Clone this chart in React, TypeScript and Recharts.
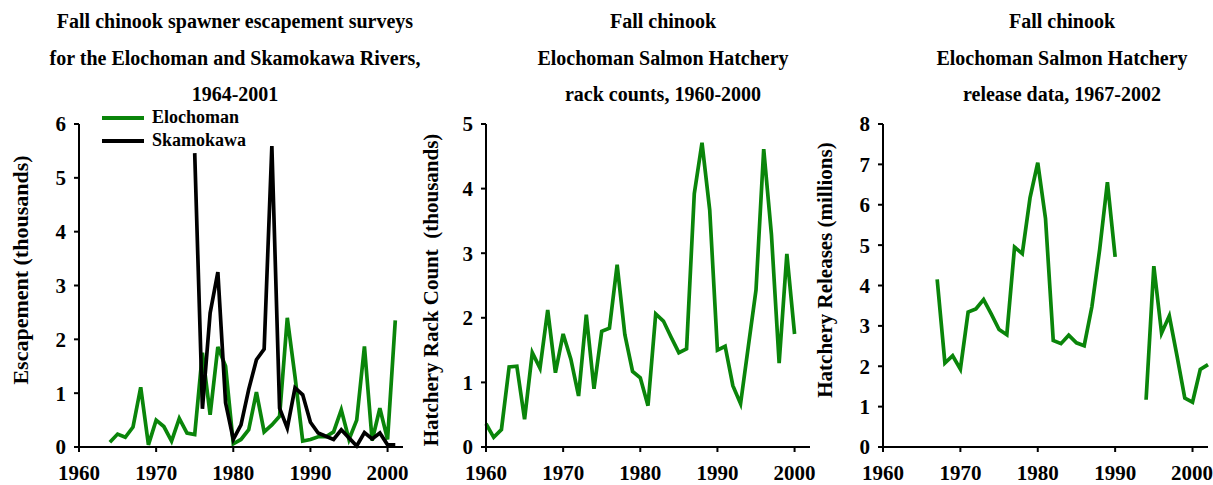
import { LineChart, Line, XAxis, YAxis } from 'recharts';

const FONT = '"Liberation Serif", "Times New Roman", serif';
const GREEN = '#0a850a';

// escapement surveys, thousands
const escYears = [
  1964, 1965, 1966, 1967, 1968, 1969, 1970, 1971, 1972, 1973, 1974, 1975, 1976,
  1977, 1978, 1979, 1980, 1981, 1982, 1983, 1984, 1985, 1986, 1987, 1988, 1989,
  1990, 1991, 1992, 1993, 1994, 1995, 1996, 1997, 1998, 1999, 2000, 2001,
];
const elochoman = [
  0.09, 0.24, 0.18, 0.37, 1.11, 0.04, 0.5, 0.38, 0.11, 0.53, 0.26, 0.23, 1.75,
  0.6, 1.86, 1.5, 0.06, 0.14, 0.32, 1.02, 0.28, 0.41, 0.57, 2.4, 1.31, 0.11,
  0.14, 0.19, 0.19, 0.28, 0.69, 0.14, 0.5, 1.87, 0.12, 0.72, 0.14, 2.35,
];
const skamokawa = [
  null, null, null, null, null, null, null, null, null, null, null, 5.46, 0.71,
  2.49, 3.25, 0.82, 0.14, 0.41, 1.07, 1.62, 1.82, 5.59, 0.72, 0.35, 1.1, 0.97,
  0.46, 0.26, 0.2, 0.14, 0.32, 0.17, 0.02, 0.27, 0.15, 0.26, 0.04, 0.04,
];

// hatchery rack counts, thousands
const rackYears = [
  1960, 1961, 1962, 1963, 1964, 1965, 1966, 1967, 1968, 1969, 1970, 1971, 1972,
  1973, 1974, 1975, 1976, 1977, 1978, 1979, 1980, 1981, 1982, 1983, 1984, 1985,
  1986, 1987, 1988, 1989, 1990, 1991, 1992, 1993, 1994, 1995, 1996, 1997, 1998,
  1999, 2000,
];
const rackCounts = [
  0.36, 0.15, 0.27, 1.24, 1.25, 0.43, 1.46, 1.22, 2.12, 1.15, 1.75, 1.36, 0.79,
  2.05, 0.9, 1.79, 1.84, 2.82, 1.74, 1.17, 1.07, 0.64, 2.06, 1.95, 1.7, 1.46,
  1.52, 3.92, 4.71, 3.67, 1.5, 1.56, 0.95, 0.67, 1.55, 2.43, 4.61, 3.29, 1.3,
  2.99, 1.75,
];

// hatchery releases, millions (no data 1991-1993)
const releaseYears = [
  1967, 1968, 1969, 1970, 1971, 1972, 1973, 1974, 1975, 1976, 1977, 1978, 1979,
  1980, 1981, 1982, 1983, 1984, 1985, 1986, 1987, 1988, 1989, 1990, 1991, 1992,
  1993, 1994, 1995, 1996, 1997, 1998, 1999, 2000, 2001, 2002,
];
const releases = [
  4.15, 2.08, 2.26, 1.93, 3.34, 3.42, 3.65, 3.29, 2.91, 2.78, 4.95, 4.79, 6.17,
  7.04, 5.66, 2.64, 2.56, 2.77, 2.58, 2.51, 3.48, 4.89, 6.56, 4.71, null, null,
  null, 1.17, 4.48, 2.82, 3.25, 2.25, 1.21, 1.11, 1.92, 2.04,
];

const xTicks = [1960, 1970, 1980, 1990, 2000];

const escSeries = [
  { name: 'Elochoman', color: GREEN },
  { name: 'Skamokawa', color: '#000' },
];

const escData = escYears.map((year, i) => ({
  year,
  Elochoman: elochoman[i],
  Skamokawa: skamokawa[i],
}));
const rackData = rackYears.map((year, i) => ({ year, rack: rackCounts[i] }));
const releaseData = releaseYears.map((year, i) => ({ year, releases: releases[i] }));

const tickStyle = { fill: '#000', fontSize: 21, fontWeight: 'bold', fontFamily: FONT };
const axisLine = { stroke: '#000', strokeWidth: 2 };

function Title({ lines, cx }: { lines: string[]; cx: number }) {
  return (
    <>
      {lines.map((t, i) => (
        <div
          key={i}
          style={{
            position: 'absolute',
            left: cx - 250,
            width: 500,
            top: 9 + i * 36.5,
            textAlign: 'center',
            fontFamily: FONT,
            fontWeight: 'bold',
            fontSize: 20,
            lineHeight: '24px',
          }}
        >
          {t}
        </div>
      ))}
    </>
  );
}

function YLabel({ text, cx, cy, size }: { text: string; cx: number; cy: number; size: number }) {
  return (
    <div
      style={{
        position: 'absolute',
        left: cx - 200,
        top: cy - 14,
        width: 400,
        height: 28,
        lineHeight: '28px',
        textAlign: 'center',
        transform: 'rotate(-90deg)',
        fontFamily: FONT,
        fontWeight: 'bold',
        fontSize: size,
        whiteSpace: 'pre',
      }}
    >
      {text}
    </div>
  );
}

function EscLegend() {
  return (
    <div
      style={{
        position: 'absolute',
        left: 100,
        top: 106,
        fontFamily: FONT,
        fontWeight: 'bold',
        fontSize: 18,
      }}
    >
      {escSeries.map((s) => (
        <div key={s.name} style={{ display: 'flex', alignItems: 'center', height: 23 }}>
          <svg width={52} height={10}>
            <line x1={2} y1={5} x2={44} y2={5} stroke={s.color} strokeWidth={4} />
          </svg>
          <span>{s.name}</span>
        </div>
      ))}
    </div>
  );
}

export default function App() {
  const xAxisProps = {
    dataKey: 'year',
    type: 'number' as const,
    domain: [1960, 2002],
    ticks: xTicks,
    height: 38,
    tick: tickStyle,
    tickSize: 5,
    tickMargin: 13,
    axisLine: axisLine,
    tickLine: axisLine,
  };
  const yAxisProps = {
    tick: tickStyle,
    tickSize: 5,
    tickMargin: 8,
    axisLine: axisLine,
    tickLine: axisLine,
  };
  return (
    <div
      style={{
        position: 'absolute',
        left: 0,
        top: 0,
        width: 1213,
        height: 485,
        background: '#fff',
        overflow: 'hidden',
      }}
    >
      <Title
        cx={235}
        lines={[
          'Fall chinook spawner escapement surveys',
          'for the Elochoman and Skamokawa Rivers,',
          '1964-2001',
        ]}
      />
      <Title
        cx={663}
        lines={['Fall chinook', 'Elochoman Salmon Hatchery', 'rack counts, 1960-2000']}
      />
      <Title
        cx={1062}
        lines={['Fall chinook', 'Elochoman Salmon Hatchery', 'release data, 1967-2002']}
      />

      <YLabel text="Escapement (thousands)" cx={21} cy={270} size={22} />
      <YLabel text="Hatchery Rack Count  (thousands)" cx={431} cy={290} size={21} />
      <YLabel text="Hatchery Releases (millions)" cx={825} cy={270} size={21} />

      <div style={{ position: 'absolute', left: 0, top: 0 }}>
        <LineChart
          width={410}
          height={485}
          data={escData}
          margin={{ top: 124, right: 7, bottom: 0, left: 0 }}
        >
          <XAxis {...xAxisProps} />
          <YAxis {...yAxisProps} domain={[0, 6]} ticks={[0, 1, 2, 3, 4, 5, 6]} width={79} />
          {escSeries.map((s) => (
            <Line
              key={s.name}
              dataKey={s.name}
              stroke={s.color}
              strokeWidth={3.7}
              dot={false}
              isAnimationActive={false}
            />
          ))}
        </LineChart>
      </div>
      <EscLegend />

      <div style={{ position: 'absolute', left: 410, top: 0 }}>
        <LineChart
          width={410}
          height={485}
          data={rackData}
          margin={{ top: 124, right: 10, bottom: 0, left: 0 }}
        >
          <XAxis {...xAxisProps} />
          <YAxis {...yAxisProps} domain={[0, 5]} ticks={[0, 1, 2, 3, 4, 5]} width={76} />
          <Line
            dataKey="rack"
            stroke={GREEN}
            strokeWidth={3.7}
            dot={false}
            isAnimationActive={false}
          />
        </LineChart>
      </div>

      <div style={{ position: 'absolute', left: 810, top: 0 }}>
        <LineChart
          width={403}
          height={485}
          data={releaseData}
          margin={{ top: 124, right: 5, bottom: 0, left: 0 }}
        >
          <XAxis {...xAxisProps} />
          <YAxis
            {...yAxisProps}
            domain={[0, 8]}
            ticks={[0, 1, 2, 3, 4, 5, 6, 7, 8]}
            width={73}
          />
          <Line
            dataKey="releases"
            stroke={GREEN}
            strokeWidth={3.7}
            dot={false}
            isAnimationActive={false}
          />
        </LineChart>
      </div>
    </div>
  );
}
